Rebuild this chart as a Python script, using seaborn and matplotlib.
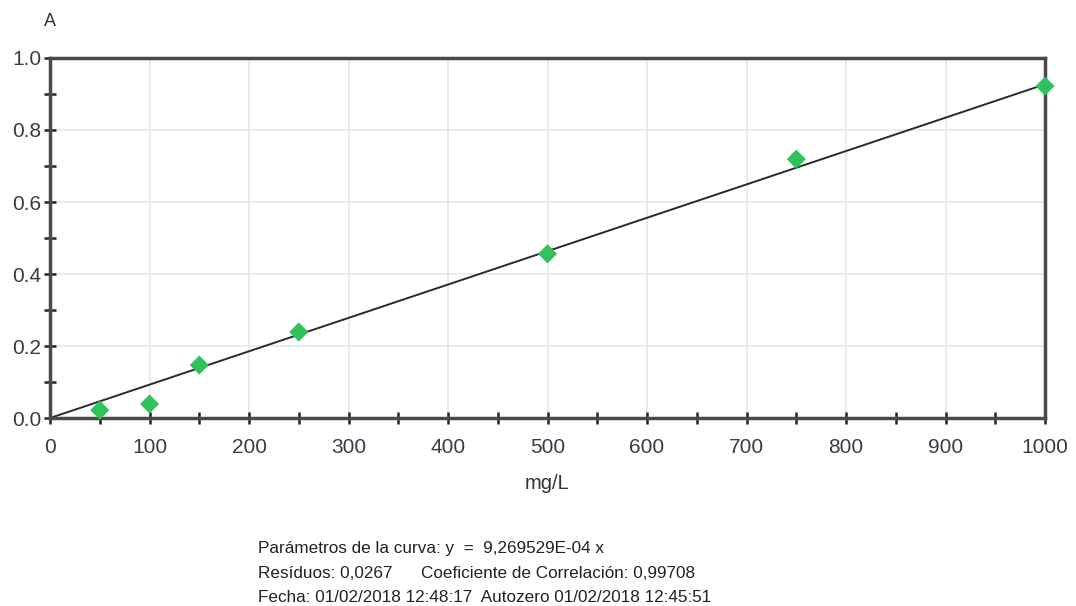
import matplotlib
matplotlib.use("Agg")
import matplotlib.pyplot as plt
import seaborn as sb
import numpy as np
import pandas as pd
from matplotlib.ticker import MultipleLocator

# calibration points
conc = [50, 100, 150, 250, 500, 750, 1000]
absorb = [0.022, 0.039, 0.147, 0.239, 0.456, 0.719, 0.922]

slope = 9.269529e-04
line_x = [0, 1000]

sb.set_style("white")
plt.rcParams["font.family"] = ["Liberation Sans", "DejaVu Sans"]

fig = plt.figure(figsize=(10.76, 6.06), dpi=100)
ax = fig.add_axes([0.0465, 0.3102, 0.9247, 0.5941])

df = pd.DataFrame({"mg/L": conc, "A": absorb})
fit = pd.DataFrame({"x": line_x, "y": [slope * v for v in line_x]})

sb.lineplot(data=fit, x="x", y="y", ax=ax, color="#2a2a2a", lw=1.4, zorder=2)
sb.scatterplot(data=df, x="mg/L", y="A", ax=ax, marker="D", s=95,
               color="#2fc35c", edgecolor="none", zorder=4, clip_on=False)

ax.set_xlim(0, 1000)
ax.set_ylim(0, 1.0)
ax.xaxis.set_major_locator(MultipleLocator(100))
ax.xaxis.set_minor_locator(MultipleLocator(50))
ax.yaxis.set_major_locator(MultipleLocator(0.2))
ax.yaxis.set_minor_locator(MultipleLocator(0.1))
ax.yaxis.set_major_formatter(plt.FuncFormatter(lambda v, p: "{:.1f}".format(v)))

ax.grid(True, which="major", color="#e8e8e8", lw=1.2)
ax.set_axisbelow(True)
for s in ax.spines.values():
    s.set_color("#4a4a4a")
    s.set_linewidth(2.5)

ax.tick_params(axis="both", which="both", direction="inout", color="#222222",
               width=1.8, length=9, labelsize=15, labelcolor="#3a3a4a",
               bottom=True, left=True, top=False, right=False)
ax.tick_params(axis="x", which="major", pad=10)
ax.tick_params(axis="y", which="major", pad=2)

ax.set_xlabel("mg/L", fontsize=14.5, color="#333333", labelpad=12)
ax.set_ylabel("")
fig.text(50 / 1076, 1 - 22 / 606, "A", fontsize=13, color="#333333",
         ha="center", va="center")

lines = ["Parámetros de la curva: y  =  9,269529E-04 x",
         "Resíduos: 0,0267      Coeficiente de Correlación: 0,99708",
         "Fecha: 01/02/2018 12:48:17  Autozero 01/02/2018 12:45:51"]
for i, t in enumerate(lines):
    fig.text(258 / 1076, 1 - (549 + 24 * i) / 606, t, fontsize=12.3,
             color="#222222", ha="left", va="center")

plt.savefig("out.png", dpi=100)
